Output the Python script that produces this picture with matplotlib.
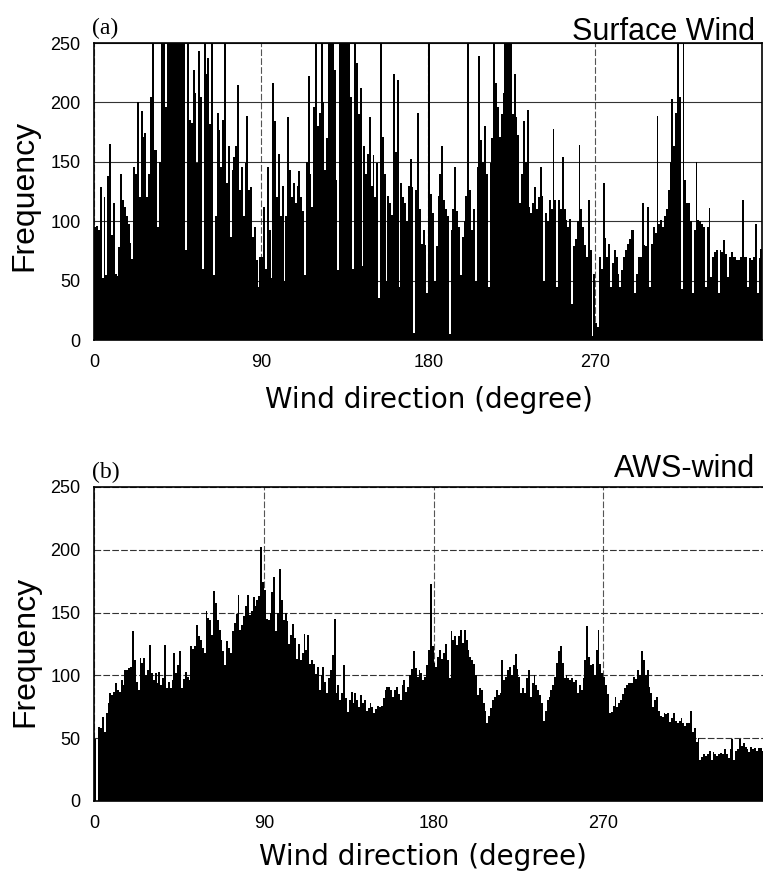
import numpy as np
import matplotlib.pyplot as plt

plt.rcParams['font.family'] = ['Liberation Sans', 'DejaVu Sans']

# 1-degree direction bins
directions = np.arange(360)

# (a) surface wind (values above 250 are clipped in the plot)
surface_freq = [
    95, 96, 93, 129, 52, 120, 55, 138, 165, 88,
    115, 56, 54, 78, 140, 118, 112, 104, 98, 82,
    68, 146, 140, 200, 120, 193, 171, 174, 120, 140,
    205, 250, 160, 160, 95, 150, 260, 270, 196, 275,
    280, 250, 270, 290, 300, 280, 290, 260, 270, 76,
    250, 185, 183, 227, 208, 149, 243, 205, 60, 250,
    224, 237, 182, 250, 55, 104, 191, 177, 146, 185,
    250, 132, 163, 87, 143, 154, 163, 215, 126, 146,
    104, 149, 189, 126, 129, 87, 95, 67, 45, 70,
    70, 112, 60, 146, 93, 52, 216, 184, 120, 157,
    104, 130, 50, 104, 188, 143, 120, 132, 115, 130,
    142, 120, 109, 55, 150, 222, 140, 112, 196, 250,
    180, 191, 250, 200, 143, 170, 250, 260, 250, 227,
    135, 59, 250, 270, 280, 290, 270, 250, 205, 60,
    250, 233, 190, 212, 62, 163, 140, 157, 188, 130,
    156, 120, 149, 35, 250, 171, 140, 50, 121, 115,
    105, 224, 158, 219, 45, 132, 120, 115, 100, 130,
    152, 129, 6, 126, 191, 110, 81, 93, 80, 40,
    250, 123, 107, 50, 79, 121, 140, 163, 118, 110,
    104, 5, 93, 110, 146, 109, 95, 55, 87, 100,
    121, 250, 126, 93, 110, 50, 146, 239, 168, 150,
    180, 140, 45, 149, 170, 250, 216, 196, 171, 190,
    208, 250, 280, 300, 250, 190, 224, 188, 173, 115,
    140, 184, 150, 194, 112, 107, 115, 129, 110, 120,
    146, 121, 50, 107, 100, 118, 110, 178, 118, 45,
    118, 110, 154, 110, 101, 95, 102, 30, 79, 85,
    100, 164, 110, 95, 80, 70, 118, 76, 3, 56,
    14, 11, 70, 60, 132, 86, 70, 81, 45, 65,
    76, 70, 56, 45, 59, 70, 76, 81, 85, 93,
    93, 40, 56, 70, 70, 115, 80, 79, 112, 45,
    81, 95, 90, 189, 98, 101, 95, 104, 110, 126,
    150, 203, 163, 191, 250, 205, 43, 250, 135, 115,
    115, 100, 40, 93, 150, 101, 100, 98, 95, 45,
    95, 111, 53, 70, 74, 76, 40, 76, 74, 84,
    72, 53, 70, 74, 70, 70, 67, 67, 70, 118,
    70, 70, 45, 69, 67, 70, 98, 40, 69, 77,
]

# (b) AWS wind
aws_freq = [
    49, 0, 59, 58, 67, 55, 70, 78, 86, 84,
    87, 94, 88, 87, 96, 92, 104, 104, 106, 107,
    135, 112, 95, 88, 114, 110, 114, 100, 104, 124,
    102, 96, 102, 94, 103, 92, 98, 124, 90, 95,
    90, 96, 118, 102, 108, 119, 90, 97, 103, 99,
    96, 123, 121, 123, 140, 131, 128, 122, 118, 151,
    146, 144, 132, 167, 158, 144, 136, 128, 119, 108,
    127, 122, 118, 135, 142, 149, 164, 136, 140, 147,
    155, 164, 148, 151, 162, 155, 160, 163, 202, 174,
    168, 145, 144, 150, 166, 178, 135, 150, 185, 160,
    144, 150, 143, 125, 132, 141, 130, 113, 125, 112,
    118, 133, 120, 132, 109, 112, 109, 101, 107, 88,
    100, 107, 95, 86, 98, 104, 116, 145, 86, 92,
    80, 86, 108, 82, 71, 80, 87, 78, 86, 80,
    75, 84, 78, 80, 72, 74, 78, 75, 70, 73,
    76, 75, 76, 82, 88, 91, 91, 88, 83, 88,
    91, 85, 80, 92, 96, 87, 91, 100, 105, 119,
    106, 99, 104, 102, 96, 99, 108, 120, 173, 123,
    110, 107, 115, 120, 113, 118, 125, 112, 98, 135,
    128, 131, 124, 131, 136, 126, 136, 128, 120, 115,
    112, 109, 100, 84, 90, 88, 78, 72, 62, 68,
    74, 80, 83, 88, 84, 86, 112, 96, 99, 104,
    107, 100, 108, 117, 105, 99, 86, 90, 86, 98,
    104, 83, 94, 100, 92, 88, 84, 78, 64, 72,
    80, 83, 88, 92, 99, 110, 119, 123, 110, 98,
    100, 98, 96, 98, 95, 96, 86, 92, 88, 98,
    112, 139, 115, 108, 109, 100, 120, 136, 109, 102,
    99, 92, 85, 70, 71, 76, 83, 75, 78, 80,
    85, 90, 92, 94, 94, 94, 99, 97, 104, 100,
    119, 112, 100, 104, 91, 86, 75, 80, 83, 72,
    68, 67, 70, 69, 70, 63, 66, 70, 64, 62,
    64, 66, 62, 60, 62, 62, 72, 55, 58, 47,
    50, 33, 35, 37, 36, 37, 40, 33, 39, 37,
    36, 37, 38, 37, 41, 37, 34, 41, 49, 33,
    40, 41, 49, 44, 46, 43, 41, 39, 43, 41,
    42, 40, 42, 42, 40, 38, 41, 39, 40, 38,
]

x_ticks = [0, 90, 180, 270]
y_ticks = [0, 50, 100, 150, 200, 250]

fig = plt.figure(figsize=(7.63, 8.75), dpi=100)
# panel (b) is a little wider and runs past the right edge, as in the scan
ax_a = fig.add_axes([0.1236, 0.6114, 0.8755, 0.3394])
ax_b = fig.add_axes([0.1236, 0.0846, 0.8894, 0.3589])


def draw_panel(ax, freq, tag, title, title_x, title_y, ygrid_style, xlab_x, xlab_y, ylab_x, ylab_y):
    ax.bar(directions, freq, width=1.0, align='edge', color='black',
           linewidth=0, antialiased=False, zorder=2)
    ax.set_xlim(0, 360)
    ax.set_ylim(0, 250)
    ax.set_xticks(x_ticks)
    ax.set_yticks(y_ticks)
    ax.tick_params(length=0, pad=10, labelsize=13)
    ax.set_axisbelow(True)
    ax.grid(axis='x', color='#555555', linewidth=0.8, linestyle=(0, (6, 2)))
    ax.grid(axis='y', color='#333333', linewidth=0.8, linestyle=ygrid_style)
    for sp in ax.spines.values():
        sp.set_linewidth(1.2)
        sp.set_zorder(3)

    ax.text(-0.003, 1.012, tag, transform=ax.transAxes, ha='left', va='bottom',
            fontsize=17, family=['Liberation Serif'])
    ax.text(title_x, title_y, title, transform=ax.transAxes, ha='right',
            va='baseline', fontsize=22)
    ax.text(ylab_x, ylab_y, 'Frequency', transform=ax.transAxes, rotation=90,
            ha='center', va='center', fontsize=23)
    ax.text(xlab_x, xlab_y, 'Wind direction (degree)', transform=ax.transAxes,
            ha='center', va='top', fontsize=20, family=['DejaVu Sans'])


draw_panel(ax_a, surface_freq, '(a)', 'Surface Wind',
           0.989, 1.01, '-', 0.501, -0.155, -0.104, 0.488)
draw_panel(ax_b, aws_freq, '(b)', 'AWS-wind',
           0.974, 1.032, (0, (6, 2)), 0.484, -0.135, -0.102, 0.475)

fig.savefig('out.png', dpi=100)
